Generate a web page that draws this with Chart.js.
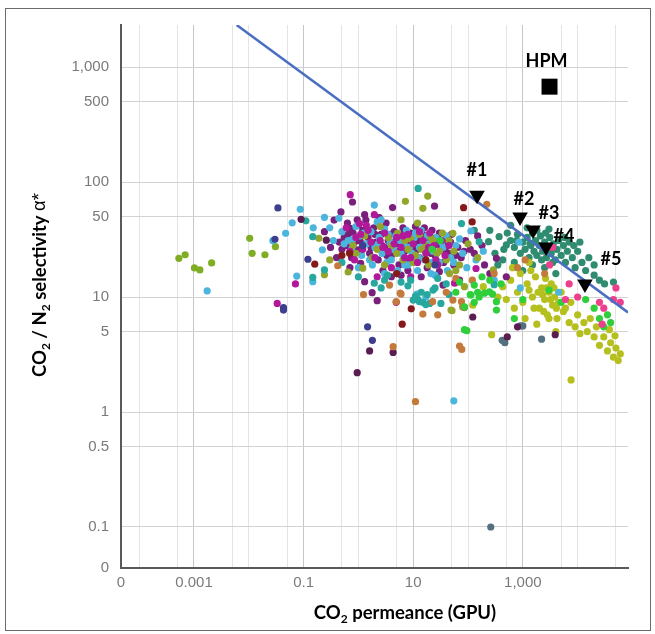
<!DOCTYPE html>
<html>
<head>
<meta charset="utf-8">
<script src="https://cdn.jsdelivr.net/npm/chart.js@4.4.1/dist/chart.umd.min.js"></script>
<style>
    html, body { margin: 0; padding: 0; background: #fff; }
    #wrap { position: relative; width: 655px; height: 634px; }
    #frame { position: absolute; left: 5px; top: 8px; width: 644px; height: 621px; border: 1px solid #6b6b6b; }
    canvas { position: absolute; left: 0; top: 0; }
</style>
</head>
<body>
<div id="wrap">
    <div id="frame"></div>
    <canvas id="chart" width="655" height="634"></canvas>
</div>
<script>
// axis ranges (log scales, the "0" label sits at the axis minimum)
const X_MIN = 0.0000466, X_MAX = 83000;
const Y_MIN = 0.044, Y_MAX = 2320;

const xTickValues = [X_MIN, 0.0001, 0.0005, 0.001, 0.005, 0.01, 0.05, 0.1, 0.5, 1, 5, 10, 50, 100, 500, 1000, 5000, 10000, 50000];
const xTickLabels = ['0', '', '', '0.001', '', '', '', '0.1', '', '', '', '10', '', '', '', '1,000', '', '', ''];
const yTickValues = [Y_MIN, 0.1, 0.5, 1, 5, 10, 50, 100, 500, 1000];
const yTickLabels = ['0', '0.1', '0.5', '1', '5', '10', '50', '100', '500', '1,000'];

// upper bound line
const boundX = [0.006, 83000];
const boundY = [2320, 7.35];

// highlighted membranes
const markerLabels = ['#1', '#2', '#3', '#4', '#5'];
const markerX = [146, 890, 1535, 2650, 13600];
const markerY = [76.6, 49.7, 38.3, 27.2, 13];
const hpmX = [3070];
const hpmY = [675];

// literature data, grouped by colour
const purplePts = [[0.36,46.7],[0.48,55],[0.63,44],[0.71,39.5],[0.91,25.7],[1.1,19.6],[1.37,46.7],[0.31,27],[0.24,37],[1.3,13.6],[1.78,10.9],[2.2,9.3],[4.2,60],[24.5,61.7],[30,16.6],[35,12.7],[130,24],[330,21.7],[200,19],[500,15],[0.55,33],[0.6,28],[0.8,36],[0.85,30],[1,42],[1.2,38],[1.2,29],[1.5,33],[1.6,24],[1.9,40],[2.1,30],[2.3,21],[2.6,35],[3,27],[3.2,44],[3.5,31],[4,23],[4.5,37],[5,29],[5.5,19],[6,33],[6.5,40],[7,25],[8,30],[8.5,21],[9,36],[10,27],[11,41],[12,31],[13,22],[15,35],[16,26],[18,18],[20,30],[22,38],[25,23],[28,33],[32,27],[36,20],[40,30],[45,24],[50,35],[55,19],[65,27],[75,22],[90,31],[110,26],[150,34],[180,28],[2.8,17],[0.4,22],[0.45,30],[0.7,18],[14,15],[6,15.5],[70,14],[250,16],[1.3,52],[2.4,49],[0.95,47],[0.78,67],
    [0.5,26],[0.65,35],[0.75,22],[1.05,31],[1.4,36],[1.7,27],[2,35],[2.7,28],[3.3,23],[3.8,35],[4.3,30],[5.5,25],[6.8,36],[7.5,29],[9.5,33],[11,25],[13,29],[17,32],[21,24],[26,29],[30,36],[38,26],[48,30],[60,23],[85,25],[1.1,26],[2.9,40],[16,40],[8,17],[4,15]];
const lightBluePts = [[0.00174,11.3],[0.0275,30.9],[0.047,35.8],[0.087,58],[0.062,44.2],[0.24,49.3],[0.22,25.7],[0.147,13.6],[0.075,15.2],[0.44,48.4],[1.95,63],[2.6,47],[55,1.25],[113,37.5],[190,25],[17,10],[11.7,10.6],[0.15,40],[0.5,37],[0.65,31],[0.75,26],[0.9,41],[1.05,34],[1.15,23],[1.4,29],[1.7,37],[1.8,19],[2,27],[2.4,33],[2.7,24],[3,39],[3.3,20],[3.8,30],[4.3,26],[4.8,34],[5.2,17],[6,24],[6.8,29],[7.5,38],[8,19],[9.5,24],[10.5,33],[12,17],[13,27],[14,38],[16,21],[19,29],[21,16],[23,25],[26,33],[30,20],[35,27],[42,17],[48,22],[60,28],[80,24],[95,18],[140,21],[300,14],[900,12],[4500,11],[850,30],[2.2,45],[0.35,31],[0.3,40],
    [0.55,29],[0.8,32],[1.25,36],[1.6,21],[2.3,29],[3.5,35],[4,21],[5.5,31],[7,19],[8.5,27],[11,36],[12.5,22],[15,28],[18,34],[22,20],[27,24],[33,30],[40,34],[55,20],[70,32],[1,18],[3,16],[25,15.5]];
const magentaPts = [[0.71,77.6],[0.071,13],[1.05,43.5],[1.95,52],[4.9,9],[0.033,8.8],[0.6,40],[0.9,33],[1.2,26],[1.5,38],[2,22],[2.5,31],[3,36],[3.5,25],[4,18],[5,33],[6,27],[7,22],[8,35],[10,29],[12,20],[15,31],[17,24],[20,36],[24,28],[28,19],[33,31],[38,23],[45,28],[57,13.2],[140,17.7],[0.85,21],[2.2,15],[9,15],[1.7,30],
    [0.7,25],[1.4,42],[2.8,27],[4.5,29],[6.5,34],[9,22],[13,37],[19,27],[26,21],[1.1,35]];
const yellowGreenPts = [[0.00053,21.7],[0.00069,23.3],[0.00102,17.9],[0.00128,17.2],[0.0021,19.8],[0.0104,32.4],[0.0115,24],[0.0197,23.3],[0.0306,27.4]];
const olivePts = [[0.19,32.4],[0.3,21],[0.24,15.6],[1.2,17.8],[7.2,68],[18.4,75.5],[15,59],[53,35.8],[290,17.2],[46,16],[86,12.3],[49,7.7],[51,7.6],[0.8,28],[1.3,34],[1.8,22],[2.5,41],[3,19],[4,28],[5.2,36],[6.5,21],[8,26],[9,32],[11,23],[13,35],[17,28],[19,19],[23,31],[27,24],[34,36],[40,21],[55,25],[70,19],[100,29],[0.65,16.5],[12,44],[6,47],
    [0.9,24],[2.2,26],[3.5,33],[5,24],[7,31],[10,20],[14,26],[21,33],[30,25],[45,31],[60,17],[150,22]];
const tealPts = [[12.3,88],[0.11,46],[0.147,33.5],[0.24,17.2],[0.147,14.8],[1.95,13.2],[3.4,15.5],[76,43.5],[160,30.3],[23,11.5],[13,9.1],[10,9.4],[20,8.8],[32,8.8],[12,9.6],[15,9],[17,8.6],[11,10.2],[14,11],[18,10.5],[25,12],[8,12.5],[6,13.5],[9,14],[28,14.5],[40,13],[5,16],[3,14],[0.5,20],[1,15],[2.6,12],[45,10.5],[300,12.8]];
const seaGreenPts = [[237,30.3],[370,33.5],[500,28.4],[310,24],[430,21],[600,31],[700,27],[800,35],[900,24],[1000,30],[1100,26],[1200,33],[1300,22],[1400,28],[1500,36],[1600,25],[1700,31],[1800,23],[2000,28],[2100,34],[2300,25],[2500,30],[2700,22],[2900,27],[3100,33],[3300,24],[3600,29],[3900,21],[4200,26],[4500,31],[5000,23],[5500,28],[6000,20],[6500,25],[7000,30],[8000,22],[9000,18],[10000,25],[12000,20],[14000,17],[16000,22],[20000,15.5],[25000,14],[700,20],[1000,17],[1500,19],[2500,18],[4000,16],[1200,40],[1800,38],[2600,36],[600,42],[8500,28],[11000,30],[3000,39],[450,26],[350,19],[520,36],[770,31],[1350,29],[2200,21],[3500,20],[5800,33],[20000,19],[31000,13],[45000,13.5],[250,38],[130,38]];
const limePts = [[190,12.3],[430,12.3],[122,8.5],[270,4.7],[600,14],[800,11],[1000,9],[1200,13],[1500,10],[1700,15],[2000,8],[2200,12],[2500,9.5],[2800,7],[3000,11],[3300,13],[3500,8.5],[3800,10],[4200,6.5],[4500,9],[5000,11],[5500,7.5],[6000,8],[7000,6],[7500,9],[7600,1.9],[9000,5.5],[10000,7],[11000,4.8],[13000,6],[15000,5],[17000,6.5],[20000,4.5],[22000,5.5],[25000,3.8],[30000,4.5],[35000,3.4],[40000,4],[45000,3],[50000,3.6],[55000,2.8],[60000,3.2],[48000,4.6],[38000,5.2],[1400,17],[900,16],[2600,14.5],[700,8],[350,10],[1100,6.5],[4000,5],[1800,5.8],[500,9.5],[650,18],[1300,20],
    [1600,8],[1900,11],[2300,10.5],[2700,12],[3200,9.5],[3700,12],[4100,8],[2400,7.5],[1300,11.5],[3000,6.5]];
const greenPts = [[130,12.7],[160,10],[113,10.4],[245,11.1],[330,9.1],[86,8.2],[330,7.7],[95,5.1],[86,5.2],[110,10.5],[150,11],[200,10.8],[280,10.6],[70,13.5],[60,11],[400,13],[1000,9.5],[700,6.5],[5000,9],[14000,9.5],[20000,8],[25000,6.5],[30000,5.5],[40000,6],[35000,7],[180,15],[250,14],[130,9],[3000,11.5],[31,31],[22,26]];
const orangePts = [[1.24,10.5],[5.8,10.8],[11,1.23],[15,7.1],[28,7],[60,14.5],[53,9.4],[76,9.1],[80,8.2],[4.3,3.7],[70,3.75],[0.42,18.7],[3.7,12.7],[4.9,9.1],[6,10.6],[22.6,9.1],[220,64],[77,3.5],[86,8.1],[40,11],[120,14],[300,16],[800,18],[1100,21],[2500,16]];
const darkRedPts = [[0.16,19.3],[0.69,24],[9.2,7.9],[6.3,5.8],[83,59.8],[119,45],[0.5,23],[5,16],[17,21]];
const navyPts = [[0.034,59.5],[0.03,31.8],[1.47,5.5],[1.8,4.2],[0.043,8.1],[0.043,7.7],[0.12,21.3],[1.2,28],[25,19]];
const darkPurplePts = [[1.6,3.4],[0.95,2.2],[0.09,47.4],[0.26,31.2],[4.3,3.3],[122,6.7],[520,4.5],[3900,4.7],[800,5.5]];
const slatePts = [[260,0.1],[470,4],[2200,4.3],[900,5.6],[1000,5.6],[420,4.2]];
const pinkPts = [[3080,19],[7000,13],[10000,10],[25000,9],[30000,8],[45000,9.5],[60000,9],[28000,5.8],[3500,27],[6000,9.5],[50000,12]];

const toXY = pts => pts.map(p => ({ x: p[0], y: p[1] }));
const dots = (pts, color) => ({
    data: toXY(pts),
    backgroundColor: color,
    borderWidth: 0,
    pointRadius: 3.6,
    pointHoverRadius: 3.6
});

// draws a text run with subscripts, centred on (0, 0)
function drawRich(ctx, runs, size) {
    const fontOf = r => r.sub ? `bold ${Math.round(size * 0.65)}px Lato`
        : r.plain ? `${size}px "Liberation Sans"` : `bold ${size}px Lato`;
    let w = 0;
    runs.forEach(r => { ctx.font = fontOf(r); w += ctx.measureText(r.t).width; });
    let cx = -w / 2;
    ctx.textAlign = 'left';
    ctx.textBaseline = 'middle';
    runs.forEach(r => {
        ctx.font = fontOf(r);
        ctx.fillText(r.t, cx, r.sub ? size * 0.32 : 0);
        cx += ctx.measureText(r.t).width;
    });
}

const overlay = {
    id: 'overlay',
    afterDatasetsDraw(chart) {
        const { ctx, scales: { x, y } } = chart;
        const shift = [[0, -25], [4, -18], [16, -17], [18, -11], [26, -25]];
        ctx.save();
        ctx.fillStyle = '#000';
        ctx.font = 'bold 18px Lato';
        ctx.textAlign = 'center';
        ctx.textBaseline = 'middle';
        markerLabels.forEach((t, i) => {
            ctx.fillText(t, x.getPixelForValue(markerX[i]) + shift[i][0], y.getPixelForValue(markerY[i]) + shift[i][1]);
        });
        ctx.fillText('HPM', x.getPixelForValue(hpmX[0]) - 3, y.getPixelForValue(hpmY[0]) - 25);

        // axis titles
        ctx.translate(40, 285);
        ctx.rotate(-Math.PI / 2);
        drawRich(ctx, [{ t: 'CO' }, { t: '2', sub: true }, { t: ' / N' }, { t: '2', sub: true }, { t: ' selectivity ' }, { t: 'α*', plain: true }], 18.5);
        ctx.setTransform(1, 0, 0, 1, 0, 0);
        ctx.translate(405, 613);
        drawRich(ctx, [{ t: 'CO' }, { t: '2', sub: true }, { t: ' permeance (GPU)' }], 18.5);
        ctx.restore();
    }
};

new Chart(document.getElementById('chart'), {
    type: 'scatter',
    data: {
        datasets: [
            {
                data: markerX.map((v, i) => ({ x: v, y: markerY[i] })),
                pointStyle: 'triangle', rotation: 180,
                pointRadius: 9, pointHoverRadius: 9,
                backgroundColor: '#000', borderColor: '#000', borderWidth: 0
            },
            {
                data: hpmX.map((v, i) => ({ x: v, y: hpmY[i] })),
                pointStyle: 'rect',
                pointRadius: 11.3, pointHoverRadius: 11.3,
                backgroundColor: '#000', borderWidth: 0
            },
            {
                data: boundX.map((v, i) => ({ x: v, y: boundY[i] })),
                showLine: true, pointRadius: 0,
                borderColor: '#4a6fc2', borderWidth: 2.5
            },
            dots(pinkPts, '#ec3f8c'),
            dots(greenPts, '#2fcf3c'),
            dots(orangePts, '#c47a3a'),
            dots(darkRedPts, '#861a1a'),
            dots(navyPts, '#3d3f8e'),
            dots(darkPurplePts, '#5a1d52'),
            dots(slatePts, '#52707e'),
            dots(tealPts, '#26a89e'),
            dots(magentaPts, '#b2199a'),
            dots(olivePts, '#93a52b'),
            dots(lightBluePts, '#4cb5de'),
            dots(purplePts, '#7a1f7c'),
            dots(yellowGreenPts, '#7fae25'),
            dots(limePts, '#b5c01f'),
            dots(seaGreenPts, '#2f8c70')
        ]
    },
    options: {
        responsive: false,
        animation: false,
        events: [],
        layout: { padding: { left: 0, top: 25, right: 27, bottom: 26 } },
        plugins: { legend: { display: false }, tooltip: { enabled: false } },
        scales: {
            x: {
                type: 'logarithmic', min: X_MIN, max: X_MAX,
                afterBuildTicks: s => { s.ticks = xTickValues.map(v => ({ value: v })); },
                afterFit: s => { s.height = 40; },
                grid: { color: c => xTickLabels[c.index] ? '#c6c6c6' : '#e4e4e4', drawTicks: false },
                border: { color: '#595959', width: 2 },
                ticks: {
                    callback: (v, i) => xTickLabels[i],
                    color: '#7a7a7a', font: { family: 'Liberation Sans', size: 15 },
                    padding: 6, maxRotation: 0, minRotation: 0, autoSkip: false
                }
            },
            y: {
                type: 'logarithmic', min: Y_MIN, max: Y_MAX,
                afterBuildTicks: s => { s.ticks = yTickValues.map(v => ({ value: v })); },
                afterFit: s => { s.width = 121; },
                grid: { color: '#d2d2d2', drawTicks: false },
                border: { color: '#595959', width: 2 },
                ticks: {
                    callback: (v, i) => yTickLabels[i],
                    color: '#7a7a7a', font: { family: 'Liberation Sans', size: 15 },
                    padding: 12, autoSkip: false
                }
            }
        }
    },
    plugins: [overlay]
});
</script>
</body>
</html>
